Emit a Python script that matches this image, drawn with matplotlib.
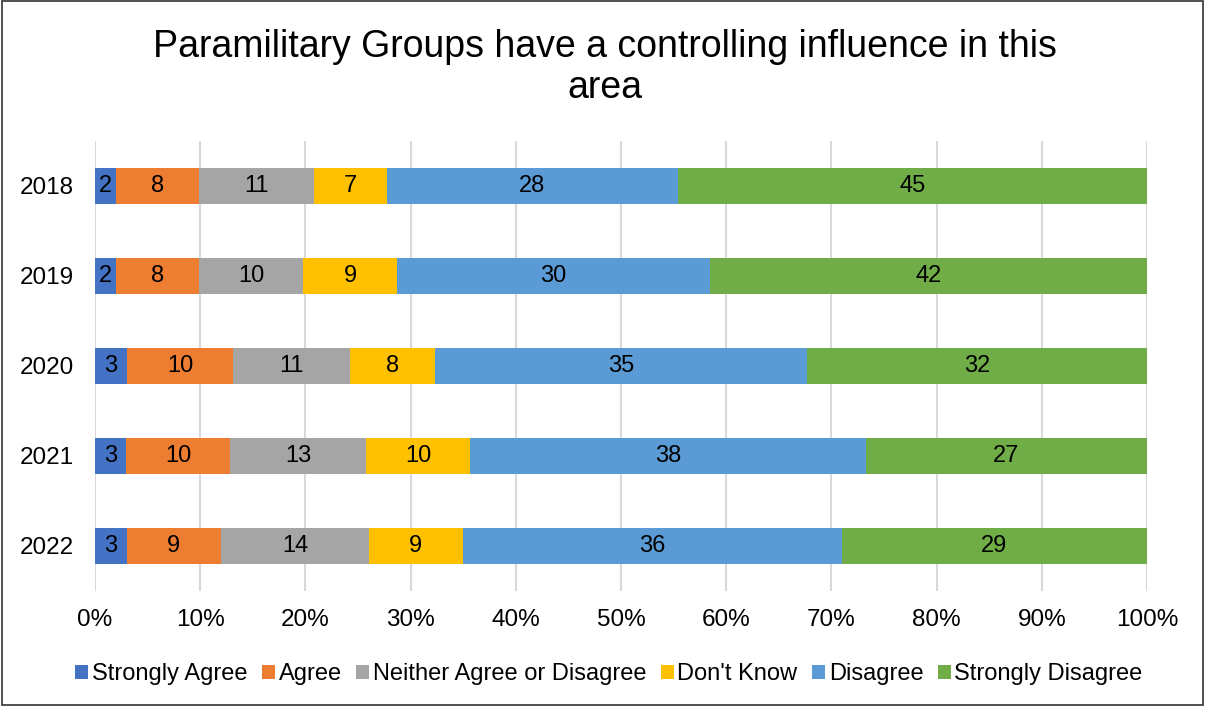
import numpy as np
import matplotlib.pyplot as plt
from matplotlib.patches import Rectangle

plt.rcParams['font.family'] = ['Liberation Sans', 'DejaVu Sans']

years = ['2018', '2019', '2020', '2021', '2022']
categories = ['Strongly Agree', 'Agree', 'Neither Agree or Disagree',
              "Don't Know", 'Disagree', 'Strongly Disagree']
strongly_agree = [2, 2, 3, 3, 3]
agree = [8, 8, 10, 10, 9]
neither = [11, 10, 11, 13, 14]
dont_know = [7, 9, 8, 10, 9]
disagree = [28, 30, 35, 38, 36]
strongly_disagree = [45, 42, 32, 27, 29]
colors = ['#4472C4', '#ED7D31', '#A5A5A5', '#FFC000', '#5B9BD5', '#70AD47']

series = np.array([strongly_agree, agree, neither, dont_know, disagree, strongly_disagree], dtype=float)
pct = series / series.sum(axis=0) * 100

fig = plt.figure(figsize=(12.05, 7.06), dpi=100)
ax = fig.add_axes([95 / 1205, 115 / 706, 1052 / 1205, 450 / 706])

y = np.arange(len(years))
left = np.zeros(len(years))
for i, cat in enumerate(categories):
    ax.barh(y, pct[i], left=left, height=0.41, color=colors[i], label=cat, zorder=3)
    for j in range(len(years)):
        ax.text(left[j] + pct[i][j] / 2, y[j], f'{int(series[i][j])}',
                ha='center', va='center', fontsize=17, color='black', zorder=4)
    left += pct[i]

ax.set_xlim(0, 100)
ax.set_ylim(len(years) - 0.5, -0.5)
ax.set_yticks(y)
ax.set_yticklabels(years, fontsize=17.5)
ax.set_xticks(np.arange(0, 101, 10))
ax.set_xticklabels([f'{v}%' for v in range(0, 101, 10)], fontsize=17.5)
ax.tick_params(length=0)
ax.tick_params(axis='x', pad=13)
ax.tick_params(axis='y', pad=15)
ax.grid(axis='x', color='#D9D9D9', linewidth=1.5, zorder=0)
for s in ax.spines.values():
    s.set_visible(False)

fig.text(0.502, 1 - 67.5 / 706, 'Paramilitary Groups have a controlling influence in this\narea',
         ha='center', va='center', fontsize=27, linespacing=1.2)

ax.legend(loc='center', bbox_to_anchor=(0.4886, -0.185), ncol=6, frameon=False,
          fontsize=17, handlelength=0.55, handleheight=0.55, handletextpad=0.15,
          columnspacing=0.62)

fig.patches.append(Rectangle((0.0015, 0.002), 0.997, 0.996, transform=fig.transFigure,
                             fill=False, edgecolor='#333333', linewidth=1.2))

plt.savefig('out.png', dpi=100)
